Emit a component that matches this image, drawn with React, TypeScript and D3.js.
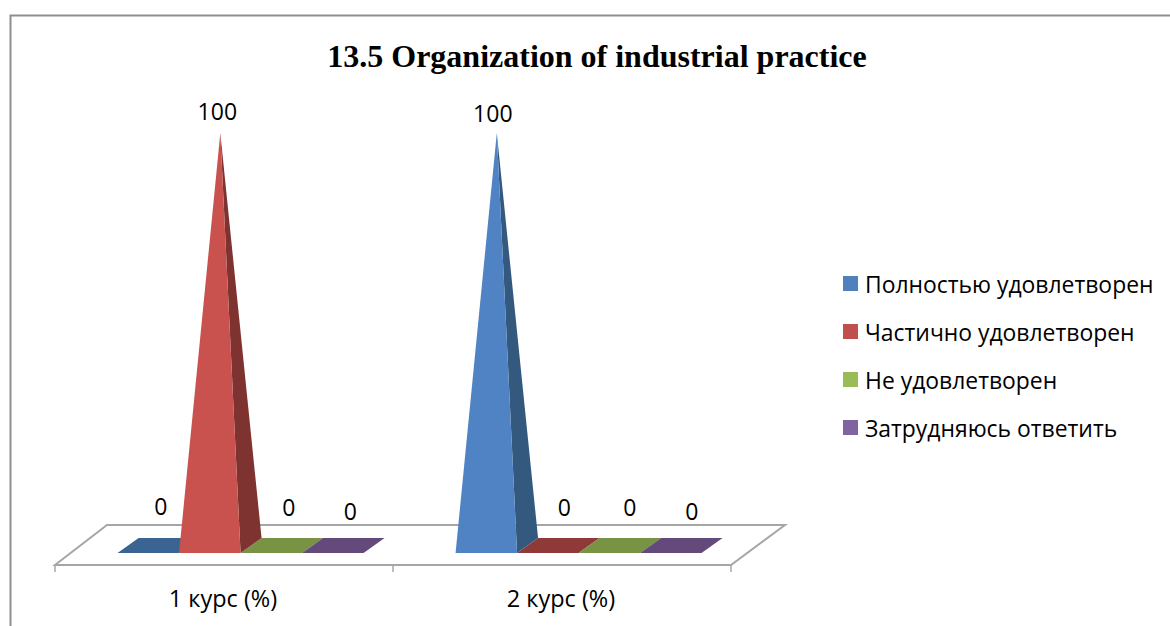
import React from "react";
import * as d3 from "d3";

const categories = ["1 курс (%)", "2 курс (%)"];
const seriesNames = ["Полностью удовлетворен", "Частично удовлетворен", "Не удовлетворен", "Затрудняюсь ответить"];
const course1 = [0, 100, 0, 0];
const course2 = [100, 0, 0, 0];
const valuesByCategory = [course1, course2];
const legendColors = ["#4F81BD", "#C0504D", "#9BBB59", "#8064A2"];
const frontColors = ["#5083C4", "#C9524F", "#9BBB59", "#8064A2"];
const sideColors = ["#34597F", "#7E3331", "#5F7533", "#4D3B63"];
const flatColors = ["#3A6593", "#8F3A38", "#779343", "#634A7B"];
const labelNudge = [
  [[2, -1], [-3, 0], [7, 0], [7, 4]],
  [[-4, 2], [6, 0], [10, -0.5], [10.5, 4]],
];

const FONT = "'Open Sans', sans-serif";

export default function App() {
  const floorFrontY = 565;
  const floorBackY = 525;
  const floorSkew = 53;
  const baseFrontY = 553;
  const depthX = 21;
  const depthY = 15;

  const xCat = d3.scaleBand<number>().domain([0, 1]).range([55, 731]);
  const xSeries = d3
    .scaleBand<number>()
    .domain([0, 1, 2, 3])
    .range([0, xCat.bandwidth()])
    .paddingOuter(0.748)
    .paddingInner(0)
    .align(0.68);
  const y = d3.scaleLinear().domain([0, 100]).range([baseFrontY - depthY / 2, 133]);
  const w = xSeries.bandwidth();

  const pts = (p: number[][]) => p.map((q) => q.join(",")).join(" ");

  return (
    <svg width={1170} height={626} style={{ position: "absolute", left: 0, top: 0, background: "#fff" }}>
      <path d="M10.5,626 V15.5 H1170" fill="none" stroke="#8E8E8E" strokeWidth={2} />
      <text x={597} y={67} textAnchor="middle" fontFamily="'Liberation Serif', serif" fontWeight="bold" fontSize={32} fill="#000">
        13.5 Organization of industrial practice
      </text>

      <polygon
        points={pts([[55, floorFrontY], [52 + floorSkew + 2, floorBackY], [731 + floorSkew + 1, floorBackY], [731, floorFrontY]])}
        fill="#fff"
        stroke="#A6A6A6"
        strokeWidth={2}
      />
      {[0, 1, 2].map((i) => {
        const tx = i === 2 ? 731 : (xCat(i) as number);
        return <line key={i} x1={tx} x2={tx} y1={floorFrontY} y2={572} stroke="#A6A6A6" strokeWidth={1.5} />;
      })}

      {valuesByCategory.map((vals, c) =>
        vals.map((v, s) => {
          const x0 = (xCat(c) as number) + (xSeries(s) as number);
          const x1 = x0 + w;
          if (v === 0) {
            return (
              <polygon
                key={`${c}-${s}`}
                points={pts([[x0, baseFrontY], [x1, baseFrontY], [x1 + depthX, baseFrontY - depthY], [x0 + depthX, baseFrontY - depthY]])}
                fill={flatColors[s]}
              />
            );
          }
          return null;
        })
      )}
      {valuesByCategory.map((vals, c) =>
        vals.map((v, s) => {
          const x0 = (xCat(c) as number) + (xSeries(s) as number);
          const x1 = x0 + w;
          if (v === 0) return null;
          const apex = [(x0 + x1 + depthX) / 2, y(v)];
          return (
            <g key={`${c}-${s}`}>
              <polygon points={pts([[x1, baseFrontY], [x1 + depthX, baseFrontY - depthY], apex])} fill={sideColors[s]} />
              <polygon points={pts([[x0, baseFrontY], [x1, baseFrontY], apex])} fill={frontColors[s]} />
            </g>
          );
        })
      )}
      {valuesByCategory.map((vals, c) =>
        vals.map((v, s) => {
          const x0 = (xCat(c) as number) + (xSeries(s) as number);
          const [dx, dy] = labelNudge[c][s];
          const cx = x0 + w / 2 + depthX / 2 + dx;
          const ly = v === 0 ? 516 : y(v) - 13;
          return (
            <text key={`${c}-${s}`} x={cx} y={ly + dy} textAnchor="middle" fontFamily={FONT} fontSize={23} fill="#000">
              {v}
            </text>
          );
        })
      )}

      {categories.map((name, i) => (
        <text key={name} x={(xCat(i) as number) + xCat.bandwidth() / 2 - 1} y={607} textAnchor="middle" fontFamily={FONT} fontSize={23.5} fill="#000">
          {name}
        </text>
      ))}

      {seriesNames.map((name, i) => {
        const ly = 284 + i * 48;
        return (
          <g key={name}>
            <rect x={843} y={ly - 8} width={15} height={15} fill={legendColors[i]} />
            <text x={865} y={ly + 8.6} fontFamily={FONT} fontSize={22.9} fill="#000">
              {name}
            </text>
          </g>
        );
      })}
    </svg>
  );
}
